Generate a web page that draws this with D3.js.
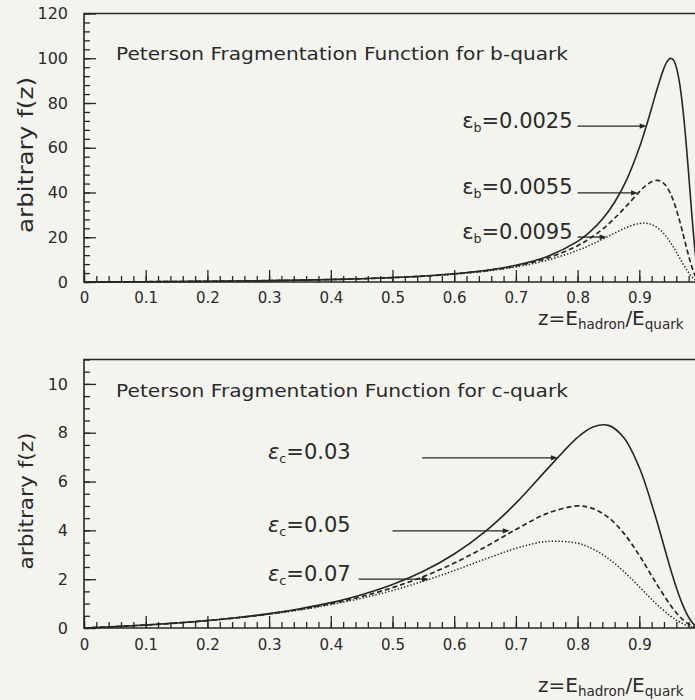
<!DOCTYPE html>
<html>
<head>
<meta charset="utf-8">
<script src="https://cdn.jsdelivr.net/npm/d3@7"></script>
<style>
  html, body { margin: 0; padding: 0; background: #f4f4ef; }
  svg { display: block; }
</style>
</head>
<body>
<svg id="chart" width="695" height="700"></svg>
<script>
// ---- b-quark panel: z grid and Peterson f(z) for three epsilon values ----
const zB = [0, 0.05, 0.1, 0.15, 0.2, 0.25, 0.3, 0.35, 0.4, 0.45, 0.5, 0.55, 0.6, 0.65, 0.7, 0.75, 0.8,
  0.82, 0.84, 0.86, 0.88, 0.9, 0.91, 0.92, 0.93, 0.94,
  0.945, 0.95, 0.955, 0.96, 0.965, 0.97, 0.975, 0.98, 0.985, 0.99, 0.995, 1.0];
const fB0025 = [0, 0.0554, 0.1234, 0.2074, 0.312, 0.4434, 0.6103, 0.825, 1.105, 1.4766, 1.980, 2.680, 3.681, 5.168, 7.484, 11.31, 18.14,
  22.39, 28.03, 35.63, 45.99, 59.98, 68.48, 77.79, 87.30, 95.59,
  98.49, 99.93, 99.33, 96.0, 89.34, 78.97, 64.97, 48.26, 30.69, 14.93, 3.94, 0];
const fB0055 = [0, 0.0554, 0.1233, 0.2071, 0.3114, 0.4423, 0.6081, 0.8209, 1.0977, 1.4636, 1.9567, 2.6367, 3.600, 5.0094, 7.1527, 10.560, 16.232,
  19.502, 23.546, 28.476, 34.232, 40.268, 42.921, 44.833, 45.433, 43.998,
  42.281, 39.798, 36.514, 32.45, 27.701, 22.457, 16.998, 11.693, 6.961, 3.220, 0.823, 0];
const fB0095 = [0, 0.0553, 0.1232, 0.2068, 0.3107, 0.4407, 0.6052, 0.8155, 1.0880, 1.4464, 1.9261, 2.5811, 3.4964, 4.8091, 6.7443, 9.6696, 14.123,
  16.449, 19.070, 21.858, 24.463, 26.155, 26.288, 25.687, 24.156, 21.554,
  19.843, 17.881, 15.703, 13.366, 10.945, 8.533, 6.233, 4.158, 2.414, 1.096, 0.277, 0];

// ---- c-quark panel ----
const zC = [0, 0.05, 0.1, 0.15, 0.2, 0.25, 0.3, 0.35, 0.4, 0.45, 0.5, 0.55, 0.6, 0.65, 0.7, 0.75, 0.8,
  0.825, 0.85, 0.875, 0.9, 0.925, 0.95, 0.96, 0.97, 0.98, 0.99, 1.0];
const fC003 = [0, 0.05522, 0.12255, 0.20505, 0.30672, 0.43283, 0.59036, 0.78871, 1.04058, 1.36321, 1.77998, 2.32220, 3.02993, 3.94887, 5.11327, 6.48789, 7.8125,
  8.2395, 8.3008, 7.7968, 6.5741, 4.6711, 2.4714, 1.6620, 0.9700, 0.4414, 0.1115, 0];
const fC005 = [0, 0.05509, 0.12195, 0.20337, 0.30296, 0.42533, 0.57641, 0.76382, 0.99723, 1.28876, 1.65289, 2.10541, 2.65928, 3.31428, 4.03200, 4.6875, 5.0,
  4.8907, 4.5266, 3.8781, 2.9752, 1.9335, 0.95, 0.6243, 0.3577, 0.1606, 0.0402, 0];
const fC007 = [0, 0.05497, 0.12135, 0.20171, 0.29926, 0.41803, 0.56296, 0.74008, 0.95653, 1.22023, 1.53894, 1.91759, 2.35271, 2.82115, 3.26066, 3.54442, 3.47222,
  3.2350, 2.8443, 2.3134, 1.6889, 1.0506, 0.4988, 0.3245, 0.1844, 0.0823, 0.0206, 0];

// ---- tick values ----
const xMajorTicks = [0, 0.1, 0.2, 0.3, 0.4, 0.5, 0.6, 0.7, 0.8, 0.9, 1];
const xTickLabels = ["0", "0.1", "0.2", "0.3", "0.4", "0.5", "0.6", "0.7", "0.8", "0.9", ""];
const yTicksB = [0, 20, 40, 60, 80, 100, 120];
const yTicksC = [0, 2, 4, 6, 8, 10];

// ---- epsilon annotations (value level and z where the arrow meets the curve) ----
const bEpsLabels = ["0.0025", "0.0055", "0.0095"];
const bArrowTipZ = [0.912, 0.898, 0.847];
const bArrowLevel = [69.7, 39.8, 20.1];
const cEpsLabels = ["0.03", "0.05", "0.07"];
const cArrowStartZ = [0.548, 0.5, 0.445];
const cArrowTipZ = [0.768, 0.69, 0.559];
const cArrowLevel = [6.97, 3.98, 2.0];

const INK = "#262626";
const FONT = "'DejaVu Sans', sans-serif";
const svg = d3.select("#chart");
svg.append("rect").attr("width", 695).attr("height", 700).attr("fill", "#f4f4ef");

const x = d3.scaleLinear().domain([0, 1]).range([84, 701]);

function drawPanel(p) {
  const y = d3.scaleLinear().domain([0, p.yMax]).range([p.y0, p.yTop]);
  const g = svg.append("g").attr("color", INK);

  // minor and major ticks along z (pointing into the frame)
  const xMinor = d3.range(0, 51).map(i => i / 50);
  g.append("g").attr("transform", `translate(0,${p.y0})`)
    .call(d3.axisBottom(x).tickValues(xMinor).tickSize(-6).tickFormat(""))
    .call(a => a.select(".domain").remove())
    .selectAll("line").attr("stroke-width", 1.3);
  const xa = g.append("g").attr("transform", `translate(0,${p.y0})`)
    .call(d3.axisBottom(x).tickValues(xMajorTicks).tickSize(-12).tickPadding(p.xPad)
      .tickFormat((d, i) => xTickLabels[i]))
    .call(a => a.select(".domain").remove());
  xa.selectAll("line").attr("stroke-width", 1.3);
  xa.attr("font-family", FONT).attr("font-size", 15);
  xa.selectAll("text").attr("fill", "#2a2a2a");

  // value axis
  g.append("g").attr("transform", "translate(84,0)")
    .call(d3.axisLeft(y).tickValues(p.yMinor).tickSize(-6).tickFormat(""))
    .call(a => a.select(".domain").remove())
    .selectAll("line").attr("stroke-width", 1.3);
  const ya = g.append("g").attr("transform", "translate(84,0)")
    .call(d3.axisLeft(y).tickValues(p.yTicks).tickSize(-12).tickPadding(16))
    .call(a => a.select(".domain").remove());
  ya.selectAll("line").attr("stroke-width", 1.3);
  ya.attr("font-family", FONT).attr("font-size", 16);
  ya.selectAll("text").attr("fill", "#2a2a2a");

  // frame
  const frame = d3.path();
  frame.moveTo(x(1), y(p.yMax)); frame.lineTo(x(0), y(p.yMax));
  frame.lineTo(x(0), y(0)); frame.lineTo(x(1), y(0));
  g.append("path").attr("d", frame.toString()).attr("fill", "none")
    .attr("stroke", INK).attr("stroke-width", 1.6);

  // curves
  const line = d3.line().x(d => x(d[0])).y(d => y(Math.max(0, d[1])))
    .curve(d3.curveCatmullRom.alpha(0.5));
  const styles = [
    { dash: null, w: 1.6 },
    { dash: "5,3", w: 1.7 },
    { dash: "1.4,1.9", w: 1.5 }
  ];
  p.series.forEach((vals, i) => {
    const pts = p.z.map((z, k) => [z, vals[k]]);
    g.append("path").attr("d", line(pts)).attr("fill", "none")
      .attr("stroke", INK).attr("stroke-width", styles[i].w)
      .attr("stroke-dasharray", styles[i].dash);
  });

  // epsilon labels with arrows
  p.labels.forEach((lab, i) => {
    const ly = y(p.level[i]);
    const x1 = x(p.startZ[i]), x2 = x(p.tipZ[i]);
    g.append("line").attr("x1", x1).attr("x2", x2 - 4).attr("y1", ly).attr("y2", ly)
      .attr("stroke", INK).attr("stroke-width", 1.3);
    g.append("path")
      .attr("d", `M${x2},${ly}L${x2 - 7},${ly - 2.6}L${x2 - 7},${ly + 2.6}Z`)
      .attr("fill", INK);
    const t = g.append("text")
      .attr("x", p.labelAnchor === "end" ? x1 - 5 : p.labelX)
      .attr("y", ly + 1.5)
      .attr("text-anchor", p.labelAnchor)
      .attr("font-family", FONT).attr("font-size", p.labelSize).attr("fill", "#2a2a2a");
    t.append("tspan").attr("font-style", p.epsItalic ? "italic" : "normal").text("ε");
    t.append("tspan").attr("font-size", p.labelSize * 0.6).attr("dy", 4).text(p.sub);
    t.append("tspan").attr("dy", -4).text("=" + lab);
  });

  // panel title
  g.append("text").attr("x", 116).attr("y", p.titleY)
    .attr("font-family", FONT).attr("font-size", 18).attr("fill", "#2a2a2a")
    .attr("textLength", 452).attr("lengthAdjust", "spacingAndGlyphs")
    .text(p.title);

  // axis titles
  g.append("text")
    .attr("transform", `translate(33,${p.yLabelY}) rotate(-90)`)
    .attr("text-anchor", "middle")
    .attr("font-family", FONT).attr("font-size", p.yLabelSize).attr("fill", "#2a2a2a")
    .attr("textLength", p.yLabelLen).attr("lengthAdjust", "spacingAndGlyphs")
    .text("arbitrary f(z)");
  const xt = g.append("text").attr("x", 538).attr("y", p.xTitleY)
    .attr("font-family", FONT).attr("font-size", 20).attr("fill", "#2a2a2a");
  xt.append("tspan").text("z=E");
  xt.append("tspan").attr("font-size", 13.5).attr("dy", 4).text("hadron");
  xt.append("tspan").attr("dy", -4).text("/E");
  xt.append("tspan").attr("font-size", 13.5).attr("dy", 4).text("quark");
}

drawPanel({
  y0: 282, yTop: 13.5, yMax: 120,
  yTicks: yTicksB, yMinor: d3.range(0, 31).map(i => i * 4), xPad: 10,
  z: zB, series: [fB0025, fB0055, fB0095],
  labels: bEpsLabels, level: bArrowLevel, tipZ: bArrowTipZ,
  startZ: bEpsLabels.map(() => 0.8), labelAnchor: "end", labelSize: 21, sub: "b", epsItalic: false,
  title: "Peterson Fragmentation Function for b-quark", titleY: 60,
  yLabelY: 155, yLabelSize: 22, yLabelLen: 156, xTitleY: 325
});

drawPanel({
  y0: 628, yTop: 359.5, yMax: 11,
  yTicks: yTicksC, yMinor: d3.range(0, 23).map(i => i * 0.5), xPad: 11,
  z: zC, series: [fC003, fC005, fC007],
  labels: cEpsLabels, level: cArrowLevel, tipZ: cArrowTipZ,
  startZ: cArrowStartZ, labelAnchor: "start", labelX: 268, labelSize: 21, sub: "c", epsItalic: true,
  title: "Peterson Fragmentation Function for c-quark", titleY: 397,
  yLabelY: 501, yLabelSize: 19, yLabelLen: 137, xTitleY: 692
});
</script>
</body>
</html>
